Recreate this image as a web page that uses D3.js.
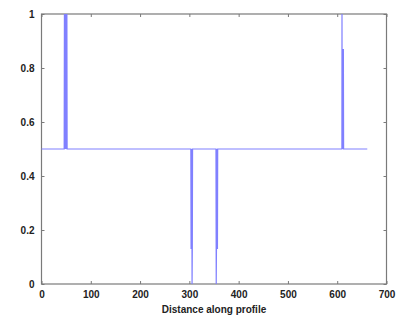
<!DOCTYPE html>
<html><head><meta charset="utf-8">
<script src="https://cdn.jsdelivr.net/npm/d3@7"></script>
<style>body{margin:0;background:#fff}svg{display:block}text{font-family:"Liberation Sans",Arial,sans-serif}</style>
</head><body><svg id="c" width="409" height="323"></svg>
<script>
// profile samples (distance, value)
const distances = [0,
  46,46.5,47,47.5,48,48.5,49,49.5,50,50.5,51,51.5,52,
  303,303.5,304,304.5,305,305.5,306,306.5,307,
  354,354.5,355,355.5,356,356.5,357,357.5,358,
  609.5,609.7,610,610.5,611,611.5,612,612.5,613,
  661];
const values = [0.5,
  0.5,1,0.5,1,0.5,1,0.5,1,0.5,1,0.5,1,0.5,
  0.5,0.13,0.5,0.13,0.5,0,0.13,0.5,0.5,
  0.5,0,0.13,0.5,0.13,0.5,0.13,0.5,0.5,
  0.5,1,0.5,0.87,0.5,0.87,0.5,0.87,0.5,
  0.5];
const xTicks = [0,100,200,300,400,500,600,700];
const yTicks = [0,0.2,0.4,0.6,0.8,1];
const xLabel = "Distance along profile";

const svg = d3.select("#c");
const L=41.5,R=386.5,T=14,B=284;
const x = d3.scaleLinear().domain([0,700]).range([L,R]);
const y = d3.scaleLinear().domain([0,1]).range([B,T]);
const axisCol="#7a7a7a";

svg.append("rect").attr("x",L).attr("y",T).attr("width",R-L).attr("height",B-T)
  .attr("fill","none").attr("stroke",axisCol).attr("stroke-width",1.2);

const fmt = d=> d3.format("~g")(d);
const gx = svg.append("g").attr("transform",`translate(0,${B})`)
  .call(d3.axisBottom(x).tickValues(xTicks).tickSize(-3).tickPadding(7).tickFormat(fmt));
const gxt = svg.append("g").attr("transform",`translate(0,${T})`)
  .call(d3.axisTop(x).tickValues(xTicks).tickSize(-3).tickFormat(""));
const gy = svg.append("g").attr("transform",`translate(${L},0)`)
  .call(d3.axisLeft(y).tickValues(yTicks).tickSize(-3).tickPadding(7).tickFormat(fmt));
const gyr = svg.append("g").attr("transform",`translate(${R},0)`)
  .call(d3.axisRight(y).tickValues(yTicks).tickSize(-3).tickFormat(""));
[gx,gxt,gy,gyr].forEach(g=>{
  g.select(".domain").remove();
  g.selectAll(".tick line").attr("stroke",axisCol);
  g.selectAll("text").attr("fill","#222").style("font-size","10px").style("font-weight","bold");
});

const pts = distances.map((d,i)=>[d,values[i]]);
svg.append("path").datum(pts)
  .attr("d", d3.line().x(d=>x(d[0])).y(d=>y(d[1])))
  .attr("fill","none").attr("stroke","#8080ff").attr("stroke-width",1.2);

svg.append("text").attr("x",(L+R)/2).attr("y",313).attr("text-anchor","middle")
  .attr("fill","#222").style("font-size","10px").style("font-weight","bold").text(xLabel);
</script></body></html>
